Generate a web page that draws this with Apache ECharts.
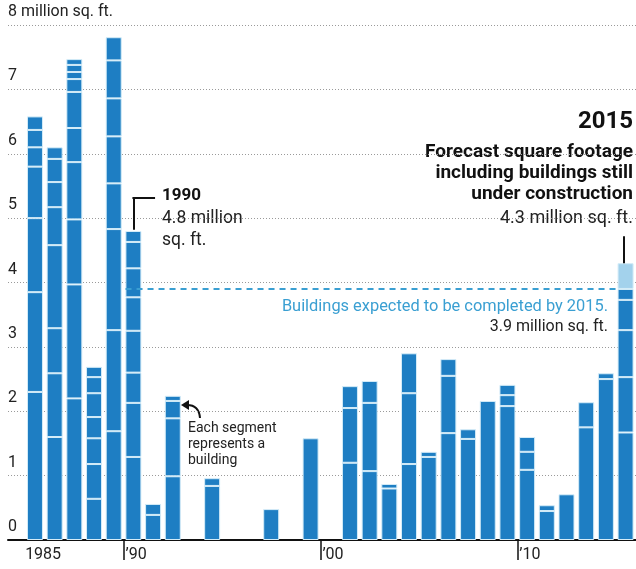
<!DOCTYPE html>
<html>
<head>
<meta charset="utf-8">
<script src="https://cdn.jsdelivr.net/npm/echarts@6/dist/echarts.min.js"></script>
<style>
html, body { margin: 0; padding: 0; background: #fff; }
#chart { width: 636px; height: 569px; }
</style>
</head>
<body>
<div id="chart"></div>
<script>
// years on the x axis
var years = [1985, 1986, 1987, 1988, 1989, 1990, 1991, 1992, 1993, 1994,
	1995, 1996, 1997, 1998, 1999, 2000, 2001, 2002, 2003, 2004,
	2005, 2006, 2007, 2008, 2009, 2010, 2011, 2012, 2013, 2014, 2015];

// each building completed that year, million sq. ft. (bottom to top)
var buildings = [
	[2.3, 1.55, 1.15, 0.8, 0.3, 0.27, 0.21],
	[1.6, 0.99, 0.7, 1.29, 0.59, 0.39, 0.36, 0.18],
	[2.2, 1.77, 1.01, 0.89, 0.53, 0.56, 0.2, 0.11, 0.11, 0.09],
	[0.64, 0.54, 0.4, 0.33, 0.37, 0.25, 0.16],
	[1.69, 1.57, 1.57, 0.71, 0.73, 0.59, 0.59, 0.36],
	[1.29, 0.84, 0.47, 0.65, 0.52, 0.45, 0.41, 0.17],
	[0.39, 0.17],
	[0.99, 0.9, 0.27, 0.08],
	[],
	[0.84, 0.12],
	[],
	[],
	[0.48],
	[],
	[1.58],
	[],
	[1.2, 0.85, 0.34],
	[1.07, 1.06, 0.34],
	[0.8, 0.07],
	[1.18, 1.1, 0.62],
	[1.29, 0.08],
	[1.66, 0.89, 0.26],
	[1.57, 0.15],
	[2.16],
	[2.08, 0.17, 0.16],
	[1.09, 0.28, 0.23],
	[0.45, 0.09],
	[0.71],
	[1.75, 0.39],
	[2.5, 0.09],
	[1.67, 0.86, 0.73, 0.47, 0.17]
];

// 2015 forecast: still under construction
var forecastYear = 2015;
var underConstruction = 0.4;
var expectedTotal = 3.9;

// tick labels
var yTicks = [0, 1, 2, 3, 4, 5, 6, 7, 8];
var xTickAt = [1989.5, 1999.5, 2009.5];
var xLabelAt = [1984.5, 1989.6, 1999.6, 2009.6];
var xLabelText = ['1985', '\u201990', '\u201900', '\u201910'];

var blue = '#1e7ec3';
var font = 'Roboto, "Open Sans", sans-serif';

var myChart = echarts.init(document.getElementById('chart'));

var maxSeg = 0;
for (var i = 0; i < buildings.length; i++) {
	maxSeg = Math.max(maxSeg, buildings[i].length);
}

// value first, year second, so the stack goes on the value
var series = [];
for (var k = 0; k < maxSeg; k++) {
	series.push({
		type: 'bar',
		stack: 'total',
		barWidth: 16,
		encode: { x: 1, y: 0 },
		data: years.map(function(y, i) {
			return [k < buildings[i].length ? buildings[i][k] : null, y];
		}),
		itemStyle: { color: blue, borderColor: '#d4ecf8', borderWidth: 1 }
	});
}
series.push({
	type: 'bar',
	stack: 'total',
	barWidth: 16,
	encode: { x: 1, y: 0 },
	data: years.map(function(y) {
		return [y === forecastYear ? underConstruction : null, y];
	}),
	itemStyle: { color: '#a3d2ec', borderColor: '#d4ecf8', borderWidth: 1 }
});

var black = { color: '#111', width: 2, type: 'solid' };
series.push({
	type: 'line',
	data: [],
	markLine: {
		silent: true,
		symbol: ['none', 'none'],
		label: { show: false },
		data: [
			[{ coord: [1989.6, expectedTotal], lineStyle: { color: '#3a9fd2', width: 2, type: [6, 5] } }, { coord: [2014.6, expectedTotal] }],
			[{ coord: [1990, 4.82], lineStyle: black }, { coord: [1990, 5.31] }],
			[{ coord: [1989.95, 5.31], lineStyle: black }, { coord: [1991.1, 5.31] }],
			[{ coord: [2014.93, 4.3], lineStyle: black }, { coord: [2014.93, 4.72] }]
		]
	}
});

function rightText(text, x, y, fontStr, color, lh) {
	return {
		type: 'text', x: x, y: y,
		style: { text: text, font: fontStr, fill: color, align: 'right', verticalAlign: 'top', lineHeight: lh }
	};
}

var option = {
	animation: false,
	grid: { left: 8, right: 0, top: 25, bottom: 29 },
	xAxis: {
		type: 'value',
		min: 1983.63,
		max: 2015.53,
		splitLine: { show: false },
		axisLine: { show: true, lineStyle: { color: '#111', width: 2 } },
		axisTick: { show: true, customValues: xTickAt, length: 20, lineStyle: { color: '#111', width: 1.5 } },
		axisLabel: {
			customValues: xLabelAt,
			align: 'left',
			margin: 7,
			fontFamily: font,
			fontSize: 16,
			color: '#222',
			formatter: function(v) {
				var idx = xLabelAt.indexOf(v);
				return idx >= 0 ? xLabelText[idx] : '';
			}
		}
	},
	yAxis: {
		type: 'value',
		min: 0,
		max: 8,
		interval: 1,
		axisLine: { show: false },
		axisTick: { show: false },
		splitLine: { lineStyle: { color: '#9a9a9a', type: [1, 2], width: 1 } },
		axisLabel: {
			inside: true,
			margin: 0,
			align: 'left',
			verticalAlign: 'bottom',
			padding: [0, 0, 5, 0],
			fontFamily: font,
			fontSize: 16,
			color: '#222',
			formatter: function(v) {
				return v === yTicks[yTicks.length - 1] ? v + ' million sq. ft.' : String(v);
			}
		}
	},
	series: series,
	graphic: [
		{ type: 'text', left: 162, top: 187, style: { text: '1990', font: 'bold 17px ' + font, fill: '#111' } },
		{ type: 'text', left: 162, top: 208, style: { text: '4.8 million\nsq. ft.', font: '17.5px ' + font, lineHeight: 22, fill: '#222' } },
		rightText('2015', 633, 108, 'bold 24px ' + font, '#111', 28),
		rightText('Forecast square footage\nincluding buildings still\nunder construction', 633, 142, 'bold 19px ' + font, '#111', 21),
		rightText('4.3 million sq. ft.', 633, 207, '18px ' + font, '#222', 22),
		rightText('Buildings expected to be completed by 2015.', 608, 297, '16.4px ' + font, '#3a9fd2', 20),
		rightText('3.9 million sq. ft.', 608, 317, '16px ' + font, '#222', 20),
		{ type: 'text', left: 188, top: 420, style: { text: 'Each segment\nrepresents a\nbuilding', font: '14px ' + font, lineHeight: 16, fill: '#222' } },
		{ type: 'bezierCurve', shape: { x1: 200, y1: 418, cpx1: 199, cpy1: 405, x2: 187, y2: 405 }, style: { stroke: '#111', lineWidth: 2, fill: null } },
		{ type: 'polygon', shape: { points: [[181, 405], [189, 400], [189, 410]] }, style: { fill: '#111' } }
	]
};
myChart.setOption(option);
</script>
</body>
</html>
